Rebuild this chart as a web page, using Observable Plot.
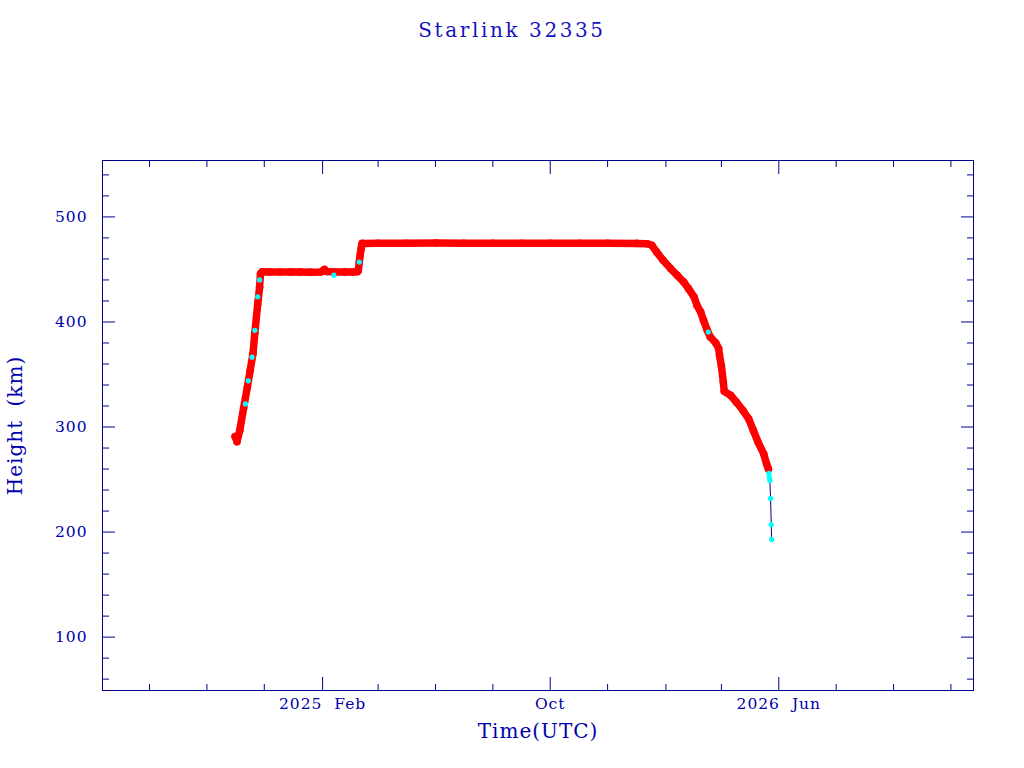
<!DOCTYPE html>
<html><head><meta charset="utf-8">
<script src="https://cdn.jsdelivr.net/npm/d3@7"></script>
<script src="https://cdn.jsdelivr.net/npm/@observablehq/plot@0.6"></script>
<style>
body{margin:0;background:#fff;}
#wrap{width:1024px;height:768px;position:relative;background:#fff;}
#title{height:60px;line-height:60px;text-align:center;font-family:"DejaVu Serif";font-size:20px;color:#1212c0;letter-spacing:2.6px;}
</style></head><body><div id="wrap"><div id="title">Starlink 32335</div></div>
<script>
// ---- data ----
const redDates = [
  "2024-10-31","2024-11-02","2024-11-05","2024-11-09","2024-11-13","2024-11-16","2024-11-19","2024-11-21",
  "2024-11-24","2024-11-26","2024-11-27","2024-11-29","2024-12-07","2024-12-18","2024-12-29","2025-01-08",
  "2025-01-19","2025-01-30","2025-02-03","2025-02-05","2025-02-15","2025-02-25","2025-03-05","2025-03-10",
  "2025-03-11","2025-03-12","2025-03-13","2025-03-14","2025-03-15","2025-04-01","2025-05-01","2025-06-01",
  "2025-07-01","2025-08-01","2025-09-01","2025-10-01","2025-11-01","2025-12-01","2026-01-01","2026-01-12",
  "2026-01-17","2026-01-22","2026-01-29","2026-02-06","2026-02-13","2026-02-20","2026-02-25","2026-03-03",
  "2026-03-06","2026-03-10","2026-03-13","2026-03-17","2026-03-20","2026-03-26","2026-03-29","2026-03-30",
  "2026-04-01","2026-04-03","2026-04-04","2026-04-11","2026-04-17","2026-04-24","2026-04-30","2026-05-05",
  "2026-05-10","2026-05-16","2026-05-19","2026-05-21"
];
const redHeights = [
  291,286,297,318,338,354,370,390,
  417,433,446,447.8,447.6,447.5,447.6,447.5,
  447.4,447.6,450,448,447.6,447.5,447.6,447.8,
  449,457,464,470,474.8,475,474.9,475.1,
  475,474.9,475,475,474.9,475,474.8,474.5,
  473,466.7,458.7,450.8,444.4,438,431.7,423.7,
  415.8,409.4,401.5,392,386,380,375,368,
  358,343,334,330,323.6,315.7,307.8,296.7,
  285.5,274.4,265,260
];
const cyanDates = [
  "2024-11-11","2024-11-14","2024-11-18","2024-11-21","2024-11-24","2024-11-26","2025-02-13","2025-03-12",
  "2026-03-18","2026-05-21T12:00","2026-05-22T00:00","2026-05-22T12:00","2026-05-23T06:00","2026-05-24T00:00","2026-05-24T08:00"
];
const cyanHeights = [322,344,366.5,392,424,440,444.5,457,390.4,256,252,249,232,207,193];

const xMajorDates = ["2025-02-01","2025-10-01","2026-06-01"];
const xMajorLabels = ["2025 Feb","Oct","2026 Jun"];
const xMinorDates = ["2024-08-01","2024-10-01","2024-12-01","2025-04-01","2025-06-01","2025-08-01",
  "2025-12-01","2026-02-01","2026-04-01","2026-08-01","2026-10-01","2026-12-01"];
const yMajor = [100,200,300,400,500];
const yMinor = [60,80,120,140,160,180,220,240,260,280,320,340,360,380,420,440,460,480,520,540];
const xDomain = ["2024-06-12","2026-12-25"];
const yDomain = [49.2,553.7];

// ---- build ----
const parse = s => new Date(s.length === 10 ? s + "T00:00:00Z" : s + ":00Z");
const red = redDates.map((d,i) => ({date: parse(d), h: redHeights[i]}));
const cyan = cyanDates.map((d,i) => ({date: parse(d), h: cyanHeights[i]}));
const all = [...red, ...cyan].sort((a,b) => a.date - b.date);
const xMaj = xMajorDates.map(parse);
const xMin = xMinorDates.map(parse);
const labelOf = d => { const i = xMaj.findIndex(t => +t === +d); return i >= 0 ? xMajorLabels[i] : ""; };

const navy = "#00008b";
const textC = "#0000aa";
const blank = () => "";

const chart = Plot.plot({
  width: 1024, height: 708,
  marginTop: 100, marginBottom: 78, marginLeft: 102, marginRight: 51,
  style: {fontFamily: "DejaVu Serif", fontSize: "15.5px", color: textC, background: "white", overflow: "visible", letterSpacing: "1px", wordSpacing: "6px"},
  x: {type: "utc", domain: xDomain.map(parse), label: null},
  y: {domain: yDomain, label: null},
  marks: [
    Plot.frame({stroke: navy}),
    Plot.axisX({anchor: "bottom", ticks: xMaj, tickSize: -13, tickPadding: 20, tickFormat: labelOf, stroke: navy, fill: textC, label: null}),
    Plot.axisX({anchor: "bottom", ticks: xMin, tickSize: -6, tickFormat: blank, stroke: navy, label: null}),
    Plot.axisX({anchor: "top", ticks: xMaj, tickSize: -13, tickFormat: blank, stroke: navy, label: null}),
    Plot.axisX({anchor: "top", ticks: xMin, tickSize: -6, tickFormat: blank, stroke: navy, label: null}),
    Plot.axisY({anchor: "left", ticks: yMajor, tickSize: -13, tickPadding: 28, stroke: navy, fill: textC, label: null}),
    Plot.axisY({anchor: "left", ticks: yMinor, tickSize: -7, tickFormat: blank, stroke: navy, label: null}),
    Plot.axisY({anchor: "right", ticks: yMajor, tickSize: -13, tickFormat: blank, stroke: navy, label: null}),
    Plot.axisY({anchor: "right", ticks: yMinor, tickSize: -7, tickFormat: blank, stroke: navy, label: null}),
    Plot.text(["Time(UTC)"], {frameAnchor: "bottom", dy: 33, lineAnchor: "top", textAnchor: "middle", fontSize: 20, fill: textC}),
    Plot.text(["Height (km)"], {frameAnchor: "left", dx: -87, rotate: -90, lineAnchor: "middle", textAnchor: "middle", fontSize: 20, fill: textC}),
    Plot.line(all, {x: "date", y: "h", stroke: navy, strokeWidth: 1}),
    Plot.line(red, {x: "date", y: "h", stroke: "#ff0000", strokeWidth: 7.5, strokeLinejoin: "round", strokeLinecap: "round"}),
    Plot.dot(red, {x: "date", y: "h", r: 3.8, fill: "#ff0000", stroke: "none"}),
    Plot.dot(cyan, {x: "date", y: "h", r: 2.6, fill: "#00ffff", stroke: "none"})
  ]
});
document.getElementById("wrap").appendChild(chart);
</script>
</body></html>
